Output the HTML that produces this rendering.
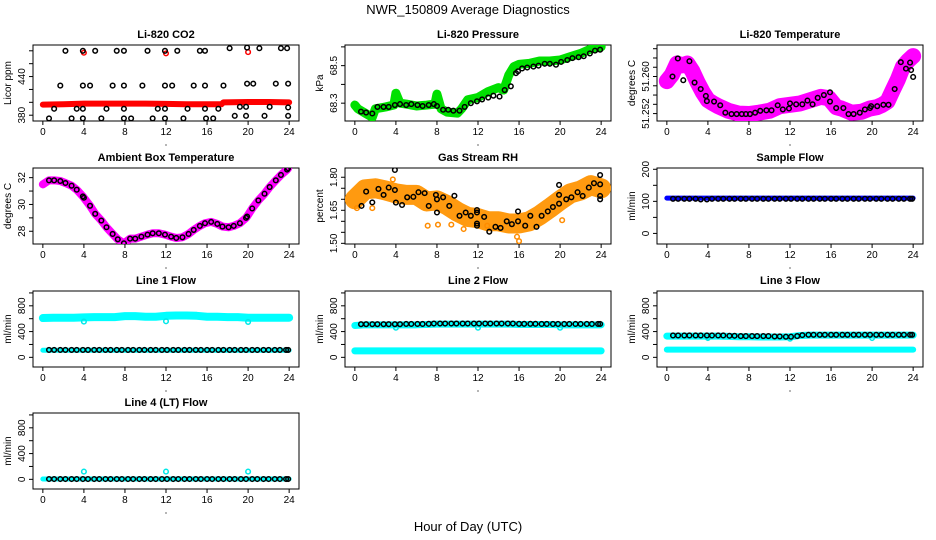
<!DOCTYPE html>
<html><head><meta charset="utf-8">
<style>
html,body{margin:0;padding:0;background:#fff;}
svg{display:block;font-family:"Liberation Sans",sans-serif;}
</style></head>
<body>
<svg id="chart" width="936" height="540" viewBox="0 0 936 540" xmlns="http://www.w3.org/2000/svg">
<text x="468" y="14" text-anchor="middle" font-size="13">NWR_150809  Average Diagnostics</text>
<text x="468" y="531" text-anchor="middle" font-size="13">Hour of Day (UTC)</text>
</svg>
<script>
// ---- data ----
const xTicks = [0,4,8,12,16,20,24];
const fHours = [0.6,1.1,1.7,2.2,2.8,3.3,3.9,4.4,5.0,5.5,6.1,6.6,7.2,7.7,8.3,8.8,9.4,9.9,10.5,11.0,11.6,12.1,12.7,13.2,13.8,14.3,14.9,15.4,16.0,16.5,17.1,17.6,18.2,18.7,19.3,19.8,20.4,20.9,21.5,22.0,22.6,23.1,23.7,23.9];
const hourly = [0,1,2,3,4,5,6,7,8,9,10,11,12,13,14,15,16,17,18,19,20,21,22,23,24];

// CO2
const co2RedHours = [0,2,4,6,8,10,12,14,16,17.4,17.6,20,22,24];
const co2RedVals = [396.5,397,398,398,398,398,397.5,397,397,397,400,400.5,400.5,400];
const co2RedOutHours = [4,12,20];
const co2RedOutVals = [477,476,478];
const co2BlackHours = [2.2,3.9,5.1,7.2,7.9,10.2,11.9,13.1,15.3,15.8,18.2,19.9,21.1,23.2,23.8, 1.7,3.9,4.6,6.8,7.9,9.7,11.9,12.6,14.7,15.8,17.6,19.9,20.5,22.7,23.9, 1.1,3.3,3.9,6.2,7.9,11.2,11.9,14.1,15.8,17.1,19.2,19.8,22.1,23.9, 18.7,19.8,21.6,23.9, 0.6,2.8,3.9,5.7,7.9,8.6,10.7,11.9,13.7,15.9,16.6];
const co2BlackVals = [480,480,480,480,480,480,480,480,480,480,484,485,484,484,484, 426,426,426,426,426,426,426,426,426,426,426,429,429,429,429, 390,390,390,390,390,390,390,390,390,390,393,393,393,392, 379,379,379,379, 375,375,375,375,375,375,375,375,375,375,375];

// Pressure
const presHours = [0,0.3,1,1.7,2,3,3.8,4,4.4,5,6,7,7.8,8,8.4,9,10,10.4,11,12,13,14,14.5,15,15.5,16,17,18,19,20,21,22,23,24];
const presVals = [68.29,68.27,68.247,68.225,68.27,68.28,68.29,68.353,68.3,68.295,68.285,68.29,68.295,68.348,68.27,68.252,68.247,68.27,68.318,68.33,68.362,68.383,68.37,68.45,68.495,68.507,68.512,68.525,68.525,68.53,68.548,68.565,68.589,68.6];
const presBlackHours = [0.6,1.1,1.7,2.2,2.8,3.3,3.9,4.4,5.0,5.5,6.1,6.6,7.2,7.7,8.0,8.6,9.1,9.6,10.2,10.7,11.3,11.9,12.4,13.0,13.5,14.1,14.6,15.2,15.7,15.9,16.3,16.8,17.4,17.9,18.5,19.0,19.6,20.1,20.7,21.2,21.8,22.3,22.9,23.4,23.9];
const presBlackVals = [68.255,68.25,68.245,68.28,68.28,68.28,68.29,68.295,68.29,68.295,68.29,68.285,68.29,68.295,68.285,68.265,68.265,68.26,68.26,68.28,68.3,68.31,68.32,68.33,68.34,68.335,68.37,68.39,68.46,68.47,68.485,68.49,68.495,68.5,68.51,68.51,68.505,68.52,68.53,68.54,68.545,68.55,68.565,68.58,68.585];

// Temperature
const tempHours = [0,0.5,1,1.5,2,2.5,3,3.5,4,4.5,5,6,7,8,9,10,11,12,13,14,15,15.8,16.5,17,18,19,19.8,20.5,21,21.5,22,22.5,23,23.5,24];
const tempVals = [51.2590,51.2604,51.2628,51.2624,51.2628,51.2611,51.2587,51.2566,51.2549,51.2542,51.2536,51.2526,51.2520,51.2519,51.2522,51.2526,51.2536,51.2539,51.2542,51.2549,51.2556,51.2553,51.2534,51.2531,51.2522,51.2524,51.2531,51.2534,51.2539,51.2546,51.2570,51.2593,51.2621,51.2634,51.2644];
const tempBlackHours = [0.55,1.07,1.6,2.2,2.7,3.3,3.8,3.9,4.6,5.2,5.7,6.3,6.8,7.3,7.7,8.1,8.6,9.1,9.7,10.2,10.8,11.3,11.9,12.0,12.6,13.2,13.7,14.2,14.7,15.3,15.9,15.9,16.5,17.2,17.7,18.2,18.8,19.3,19.8,19.9,20.5,21.1,21.6,22.2,22.8,23.3,23.7,23.8,24.0];
const tempBlackVals = [51.2600,51.2639,51.2592,51.2633,51.2587,51.2573,51.2558,51.2547,51.2546,51.2538,51.2522,51.2519,51.2519,51.2519,51.2519,51.2519,51.2522,51.2526,51.2527,51.2527,51.2538,51.2529,51.2531,51.2542,51.2540,51.2540,51.2548,51.2540,51.2554,51.2560,51.2566,51.2546,51.2532,51.2532,51.2519,51.2519,51.2522,51.2529,51.2532,51.2536,51.2536,51.2539,51.2539,51.2573,51.2631,51.2617,51.2630,51.2614,51.2599];

// Ambient
const ambHours = [0,0.6,1.1,1.7,2.2,2.8,3.3,3.9,4.0,4.6,5.1,5.7,6.2,6.8,7.3,7.9,8.5,9.0,9.6,10.2,10.7,11.3,11.9,12.5,13.0,13.6,14.2,14.7,15.3,15.8,16.4,17.0,17.5,18.1,18.6,19.2,19.8,19.9,20.4,21.0,21.6,22.1,22.7,23.2,23.8,23.9];
const ambVals = [31.5,31.8,31.8,31.75,31.6,31.4,31.1,30.6,30.5,29.9,29.3,28.8,28.3,27.8,27.4,27.1,27.45,27.45,27.6,27.75,27.85,27.85,27.75,27.6,27.5,27.55,27.8,28.1,28.4,28.6,28.7,28.55,28.35,28.3,28.4,28.6,29.0,29.1,29.7,30.3,30.8,31.3,31.8,32.2,32.6,32.7];

// Gas stream RH
const rhHours = [0,1,2,3,4,5,6,7,8,9,10,11,12,13,14,15,16,17,18,19,20,21,22,23,24];
const rhVals = [1.70,1.745,1.75,1.74,1.727,1.72,1.72,1.69,1.695,1.673,1.643,1.62,1.614,1.60,1.60,1.59,1.59,1.60,1.627,1.66,1.695,1.727,1.74,1.764,1.75];
const rhBlackHours = [0.65,1.1,1.7,2.3,2.8,3.3,3.9,3.9,4.0,4.6,5.1,5.7,6.2,6.8,7.2,7.9,8.0,8.0,8.6,9.2,9.7,10.2,10.8,11.3,11.9,11.9,11.9,11.9,12.6,13.1,13.7,14.2,14.8,15.3,15.9,15.9,16.6,17.1,17.7,18.2,18.8,19.3,19.9,19.9,19.9,20.6,21.1,21.7,22.2,22.8,23.3,23.9,23.9,23.9,23.9];
const rhBlackVals = [1.67,1.735,1.686,1.747,1.72,1.753,1.833,1.742,1.685,1.674,1.709,1.711,1.732,1.728,1.67,1.72,1.70,1.64,1.709,1.67,1.716,1.625,1.64,1.625,1.651,1.64,1.59,1.58,1.62,1.553,1.575,1.57,1.60,1.587,1.60,1.645,1.58,1.625,1.575,1.625,1.645,1.665,1.68,1.72,1.765,1.70,1.709,1.732,1.715,1.753,1.773,1.81,1.768,1.715,1.70];
const rhOutHours = [1.7,7.1,8.1,9.4,10.6,12.9,15.8,16.0,20.2,0.2,3.7];
const rhOutVals = [1.66,1.58,1.585,1.585,1.565,1.58,1.53,1.51,1.605,1.66,1.79];

// Sample flow
const sampleBandVals = [110,110,110,110,110,110,110,110,110,110,110,110,110,110,110,110,110,110,110,110,110,110,110,110,110];
const sampleBlackVals = [108,108,108,108,108,106,106,108,108,108,108,108,108,108,108,108,108,108,108,108,108,108,108,108,108,108,108,108,108,108,108,108,108,108,108,108,108,108,108,108,108,108,108,108];

// Line flows
const l1Cyan = [610,615,615,615,620,625,625,625,640,640,630,630,645,650,650,645,630,630,625,625,615,615,615,615,615];
const l1CyanLow = [110,110,110,110,110,110,110,110,110,110,110,110,110,110,110,110,110,110,110,110,110,110,110,110,110];
const l1Black = [115,115,115,115,115,115,115,115,115,115,115,115,115,115,115,115,115,115,115,115,115,115,115,115,115,115,115,115,115,115,115,115,115,115,115,115,115,115,115,115,115,115,115,115];
const l2Cyan = [495,505,505,505,505,505,505,510,515,515,515,515,515,515,515,515,510,510,510,510,505,505,505,505,505];
const l2CyanLow = [100,100,100,100,100,100,100,100,100,100,100,100,100,100,100,100,100,100,100,100,100,100,100,100,100];
const l2Black = [515,515,515,515,515,515,515,515,518,518,518,518,520,525,525,525,525,525,525,525,525,525,525,525,525,525,525,525,520,520,520,520,518,518,518,518,518,518,518,518,518,518,518,518];
const l3Cyan = [330,330,330,330,330,330,325,320,320,315,315,315,320,340,345,345,345,345,345,345,345,345,345,345,345];
const l3CyanLow = [120,120,120,120,120,120,120,120,120,120,120,120,120,120,120,120,120,120,120,120,120,120,120,120,120];
const l3Black = [340,340,340,340,340,340,340,340,340,340,335,335,330,330,330,330,330,330,325,325,320,320,330,345,350,350,350,350,350,350,350,350,350,350,350,350,350,350,350,350,350,350,350,350];
const l4Cyan = [5,5,5,5,5,5,5,5,5,5,5,5,5,5,5,5,5,5,5,5,5,5,5,5,5];
const l4Black = [5,5,5,5,5,5,5,5,5,5,5,5,5,5,5,5,5,5,5,5,5,5,5,5,5,5,5,5,5,5,5,5,5,5,5,5,5,5,5,5,5,5,5,5];
const outHours = [4,12,20];
const l1Out = [555,560,550];
const l2Out = [460,460,460];
const l3Out = [300,290,300];
const l4Out = [120,120,120];

// ---- drawing ----
const NS = "http://www.w3.org/2000/svg";
const svg = document.getElementById('chart');
const COLX = [33,345,657], ROWY = [45,168,291,413], W = 266, H = 76;
function mk(tag, attrs, parent){
  const e = document.createElementNS(NS, tag);
  for (const k in attrs) e.setAttribute(k, attrs[k]);
  (parent||svg).appendChild(e);
  return e;
}
function panel(col,row,title,ylab,ymin,ymax,ticks,labels,name,fmt){
  const x0 = COLX[col], y0 = ROWY[row];
  const g = mk('g',{});
  
  
  const sx = h => x0 + (h + 0.96) / 25.92 * W;
  const sy = v => y0 + H - (v - ymin) / (ymax - ymin) * H;
  const t = mk('text',{x:x0+W/2,y:y0-7,'text-anchor':'middle','font-size':'11','font-weight':'bold'},g);
  t.textContent = title;
  
  
  const yl = mk('text',{x:0,y:0,'text-anchor':'middle','font-size':'10',transform:`translate(${x0-22},${y0+H/2}) rotate(-90)`},g);
  yl.textContent = ylab;
  
  
  const box = mk('rect',{x:x0,y:y0,width:W,height:H,fill:'none',stroke:'#000','stroke-width':1},g);
  
  
  xTicks.forEach(h=>{
    const X = sx(h);
    mk('line',{x1:X,x2:X,y1:y0+H,y2:y0+H+4,stroke:'#000'},g);
    const tl = mk('text',{x:X,y:y0+H+14,'text-anchor':'middle','font-size':'10'},g);
    tl.textContent = h;
    
    
  });
  mk('circle',{cx:x0+W/2,cy:y0+H+24,r:0.6,fill:'#000'},g);
  ticks.forEach(v=>{
    const Y = sy(v);
    mk('line',{x1:x0-4,x2:x0,y1:Y,y2:Y,stroke:'#000'},g);
  });
  labels.forEach(v=>{
    const Y = sy(v);
    const tl = mk('text',{x:0,y:0,'text-anchor':'middle','font-size':'10',transform:`translate(${x0-8},${Y}) rotate(-90)`},g);
    tl.textContent = fmt ? fmt(v) : String(v);
    
    
  });
  const clipId = 'c'+col+row;
  const cp = mk('clipPath',{id:clipId},g);
  mk('rect',{x:x0,y:y0,width:W,height:H},cp);
  const data = mk('g',{'clip-path':`url(#${clipId})`},g);
  return {
    band(hs, vs, color, width, nm){
      const p = mk('polyline',{points:hs.map((h,i)=>sx(h)+','+sy(vs[i])).join(' '),fill:'none',stroke:color,'stroke-width':width,'stroke-linejoin':'round','stroke-linecap':'round'},data);
      
      
    },
    pts(hs, vs, color, nm, r){
      hs.forEach((h,i)=>{
        const c = mk('circle',{cx:sx(h),cy:sy(vs[i]),r:r||2.3,fill:'none',stroke:color,'stroke-width':1.5},data);
        
        
      });
    }
  };
}

// CO2
let p = panel(0,0,'Li-820 CO2','Licor ppm',371,489,[380,400,420,440,460,480],[380,440],'co2');
p.band(co2RedHours, co2RedVals, '#f00', 6, 'co2-red-series');
p.pts(co2RedOutHours, co2RedOutVals, '#f00', 'co2-red-point');
p.pts(co2BlackHours, co2BlackVals, '#000', 'co2-black-point');

// Pressure
p = panel(1,0,'Li-820 Pressure','kPa',68.205,68.61,[68.3,68.4,68.5,68.6],[68.3,68.5],'pressure',v=>v.toFixed(1));
p.band(presHours, presVals, '#00e000', 9, 'pressure-green-series');
p.pts(presBlackHours, presBlackVals, '#000', 'pressure-black-point');

// Temperature
p = panel(2,0,'Li-820 Temperature','degrees C',51.2504,51.2668,[51.252,51.254,51.256,51.258,51.260,51.262,51.264,51.266],[51.252,51.260],'temperature',v=>v.toFixed(3));
p.band(tempHours, tempVals, '#f0f', 16, 'temperature-magenta-series');
p.pts(tempBlackHours, tempBlackVals, '#000', 'temperature-black-point');

// Ambient
p = panel(0,1,'Ambient Box Temperature','degrees C',27.05,32.72,[28,29,30,31,32],[28,30,32],'ambient');
p.band(ambHours, ambVals, '#f0f', 8, 'ambient-magenta-series');
p.pts(ambHours.slice(1), ambVals.slice(1), '#000', 'ambient-black-point');

// RH
p = panel(1,1,'Gas Stream RH','percent',1.497,1.842,[1.50,1.55,1.60,1.65,1.70,1.75,1.80],[1.50,1.65,1.80],'rh',v=>v.toFixed(2));
p.band(rhHours, rhVals, '#ff9a10', 20, 'rh-orange-series');
p.pts(rhOutHours, rhOutVals, '#ff8c00', 'rh-orange-point');
p.pts(rhBlackHours, rhBlackVals, '#000', 'rh-black-point');

// Sample flow
p = panel(2,1,'Sample Flow','ml/min',-33,204,[0,50,100,150,200],[0,100,200],'sample-flow');
p.band(hourly, sampleBandVals, '#0000ff', 5, 'sample-flow-blue-series');
p.pts(fHours, sampleBlackVals, '#000', 'sample-flow-black-point');

// Line flows
const fT = [0,200,400,600,800,1000], fL = [0,400,800];
p = panel(0,2,'Line 1 Flow','ml/min',-150,1030,fT,fL,'line1-flow');
p.band(hourly, l1Cyan, '#00ffff', 8, 'line1-cyan-series');
p.band(hourly, l1CyanLow, '#00ffff', 5, 'line1-cyan-low-series');
p.pts(outHours, l1Out, '#00e8e8', 'line1-cyan-point');
p.pts(fHours, l1Black, '#000', 'line1-black-point');

p = panel(1,2,'Line 2 Flow','ml/min',-150,1030,fT,fL,'line2-flow');
p.band(hourly, l2Cyan, '#00ffff', 7, 'line2-cyan-series');
p.band(hourly, l2CyanLow, '#00ffff', 7, 'line2-cyan-low-series');
p.pts(outHours, l2Out, '#00e8e8', 'line2-cyan-point');
p.pts(fHours, l2Black, '#000', 'line2-black-point');

p = panel(2,2,'Line 3 Flow','ml/min',-150,1030,fT,fL,'line3-flow');
p.band(hourly, l3Cyan, '#00ffff', 7, 'line3-cyan-series');
p.band(hourly, l3CyanLow, '#00ffff', 6, 'line3-cyan-low-series');
p.pts(outHours, l3Out, '#00e8e8', 'line3-cyan-point');
p.pts(fHours, l3Black, '#000', 'line3-black-point');

p = panel(0,3,'Line 4 (LT) Flow','ml/min',-150,1030,fT,fL,'line4-flow');
p.band(hourly, l4Cyan, '#00ffff', 5, 'line4-cyan-series');
p.pts(outHours, l4Out, '#00e8e8', 'line4-cyan-point');
p.pts(fHours, l4Black, '#000', 'line4-black-point');
</script>
</body></html>
